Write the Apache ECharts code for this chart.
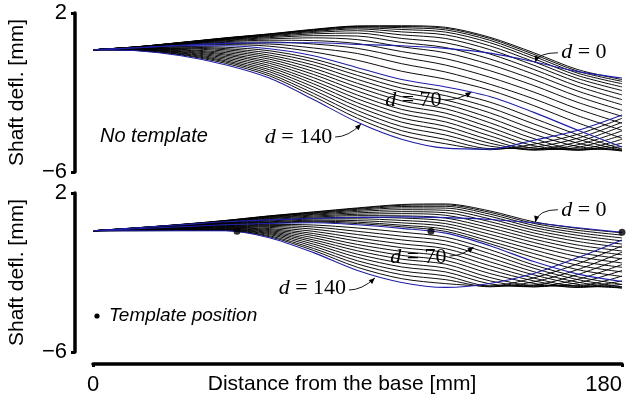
<!DOCTYPE html>
<html><head><meta charset="utf-8">
<script src="https://cdn.jsdelivr.net/npm/echarts@6/dist/echarts.min.js"></script>
<style>html,body{margin:0;padding:0;background:#fff}#c{width:641px;height:405px}</style>
</head><body><div id="c"></div><script>
// sample positions along the shaft [mm]
const xs = [0,15,30,45,60,75,90,105,120,135,150,165,180];
// template distance d of each curve
const dValues = [0,5,10,15,20,25,30,35,40,45,50,55,60,65,70,75,80,85,90,95,100,105,110,115,120,125,130,135,140];
const highlighted = [0,70,140];
const yTicks = [-6,2];
const xTicks = [0,180];

// Shaft deflection [mm], panel "No template" (one row per d)
const noTemplate = [
 [.15,.25,.38,.47,.5,.5,.42,.35,.22,-.02,-.45,-.95,-1.27],
 [.15,.3,.52,.75,.95,1.18,1.35,1.36,1.28,.78,.0,-.85,-1.35],
 [.15,.3,.52,.74,.94,1.16,1.33,1.32,1.23,.72,-.08,-.93,-1.44],
 [.15,.3,.51,.73,.93,1.14,1.3,1.26,1.15,.63,-.18,-1.03,-1.56],
 [.15,.3,.51,.72,.91,1.11,1.26,1.17,1.04,.51,-.3,-1.15,-1.72],
 [.15,.29,.5,.7,.88,1.07,1.2,1.05,.9,.35,-.45,-1.3,-1.9],
 [.15,.29,.49,.68,.85,1.02,1.11,.9,.72,.16,-.63,-1.48,-2.12],
 [.15,.29,.48,.66,.81,.95,.99,.72,.5,-.06,-.84,-1.69,-2.36],
 [.15,.28,.47,.63,.76,.86,.84,.52,.26,-.31,-1.08,-1.93,-2.62],
 [.15,.28,.45,.6,.7,.75,.66,.3,.0,-.59,-1.35,-2.2,-2.9],
 [.15,.27,.44,.56,.63,.61,.46,.06,-.3,-.9,-1.65,-2.5,-3.2],
 [.15,.27,.42,.52,.54,.44,.22,-.22,-.62,-1.23,-1.98,-2.83,-3.55],
 [.15,.26,.4,.46,.44,.24,-.04,-.55,-.97,-1.58,-2.32,-3.17,-3.9],
 [.15,.26,.38,.41,.33,.04,-.38,-.93,-1.33,-1.88,-2.66,-3.53,-4.3],
 [.15,.25,.35,.35,.2,-.15,-.75,-1.35,-1.72,-2.2,-3.0,-3.9,-4.74],
 [.15,.24,.31,.28,.1,-.31,-.95,-1.56,-1.94,-2.48,-3.3,-4.13,-4.85],
 [.15,.23,.28,.21,-.01,-.46,-1.14,-1.78,-2.16,-2.76,-3.58,-4.35,-4.92],
 [.15,.22,.24,.15,-.12,-.62,-1.34,-1.99,-2.38,-3.02,-3.85,-4.55,-4.95],
 [.15,.21,.21,.08,-.22,-.78,-1.54,-2.21,-2.6,-3.28,-4.1,-4.72,-4.92],
 [.15,.2,.17,.01,-.32,-.94,-1.73,-2.42,-2.82,-3.52,-4.32,-4.85,-4.85],
 [.15,.19,.14,-.06,-.43,-1.09,-1.93,-2.64,-3.04,-3.75,-4.52,-4.9,-4.72],
 [.15,.18,.1,-.12,-.53,-1.25,-2.13,-2.85,-3.26,-3.97,-4.68,-4.9,-4.55],
 [.15,.17,.06,-.19,-.64,-1.41,-2.32,-3.06,-3.48,-4.18,-4.8,-4.85,-4.35],
 [.15,.16,.03,-.26,-.74,-1.56,-2.52,-3.28,-3.7,-4.38,-4.88,-4.76,-4.15],
 [.15,.15,-.01,-.33,-.85,-1.72,-2.71,-3.49,-3.92,-4.55,-4.9,-4.63,-3.93],
 [.15,.14,-.04,-.4,-.95,-1.88,-2.91,-3.71,-4.14,-4.7,-4.85,-4.48,-3.7],
 [.15,.12,-.08,-.46,-1.06,-2.04,-3.11,-3.92,-4.36,-4.82,-4.75,-4.3,-3.5],
 [.15,.11,-.11,-.53,-1.16,-2.19,-3.3,-4.14,-4.58,-4.88,-4.6,-4.1,-3.3],
 [.15,.1,-.15,-.6,-1.27,-2.35,-3.5,-4.35,-4.8,-4.85,-4.4,-3.9,-3.13]
];

// Shaft deflection [mm], panel with template (one row per d)
const withTemplate = [
 [.1,.25,.4,.55,.65,.72,.77,.8,.76,.67,.5,.25,.02],
 [.1,.25,.42,.62,.85,1.05,1.25,1.42,1.45,1.1,.55,.22,.0],
 [.1,.25,.42,.61,.84,1.03,1.22,1.38,1.4,1.03,.47,.12,-.12],
 [.1,.25,.41,.6,.82,1.0,1.18,1.32,1.33,.94,.37,.0,-.26],
 [.1,.24,.41,.59,.8,.97,1.13,1.25,1.24,.83,.26,-.13,-.41],
 [.1,.24,.4,.58,.77,.93,1.07,1.16,1.13,.7,.13,-.28,-.57],
 [.1,.24,.39,.56,.74,.89,1.0,1.06,1.01,.56,-.01,-.44,-.74],
 [.1,.23,.38,.54,.71,.84,.93,.96,.88,.41,-.16,-.62,-.92],
 [.1,.23,.37,.52,.67,.79,.86,.85,.74,.25,-.32,-.8,-1.11],
 [.1,.22,.36,.5,.63,.74,.78,.74,.6,.09,-.49,-1.0,-1.31],
 [.1,.22,.35,.48,.59,.69,.7,.62,.46,-.08,-.67,-1.2,-1.52],
 [.1,.21,.34,.46,.55,.63,.61,.5,.32,-.25,-.86,-1.42,-1.74],
 [.1,.21,.32,.44,.52,.58,.53,.38,.18,-.42,-1.05,-1.64,-1.97],
 [.1,.2,.31,.42,.49,.54,.46,.3,.07,-.55,-1.25,-1.86,-2.2],
 [.1,.2,.3,.4,.47,.5,.4,.22,-.02,-.65,-1.45,-2.08,-2.45],
 [.1,.19,.29,.38,.42,.39,.24,.03,-.22,-.85,-1.62,-2.22,-2.6],
 [.1,.18,.27,.36,.37,.29,.07,-.17,-.41,-1.05,-1.79,-2.36,-2.72],
 [.1,.17,.26,.33,.32,.18,-.09,-.36,-.61,-1.26,-1.96,-2.49,-2.78],
 [.1,.17,.24,.31,.27,.07,-.26,-.56,-.8,-1.46,-2.12,-2.6,-2.78],
 [.1,.16,.23,.28,.21,-.04,-.42,-.75,-1.0,-1.66,-2.28,-2.7,-2.72],
 [.1,.15,.21,.26,.16,-.14,-.59,-.94,-1.19,-1.86,-2.42,-2.75,-2.6],
 [.1,.14,.2,.23,.11,-.25,-.75,-1.14,-1.39,-2.05,-2.55,-2.74,-2.42],
 [.1,.14,.18,.21,.06,-.36,-.91,-1.33,-1.58,-2.25,-2.65,-2.66,-2.18],
 [.1,.13,.16,.18,.01,-.46,-1.08,-1.53,-1.78,-2.42,-2.72,-2.52,-1.9],
 [.1,.12,.15,.16,-.04,-.57,-1.24,-1.72,-1.97,-2.57,-2.72,-2.34,-1.6],
 [.1,.12,.13,.14,-.09,-.68,-1.41,-1.92,-2.17,-2.68,-2.63,-2.1,-1.28],
 [.1,.11,.12,.12,-.15,-.79,-1.57,-2.11,-2.36,-2.72,-2.47,-1.85,-.98],
 [.1,.1,.11,.11,-.2,-.89,-1.74,-2.31,-2.56,-2.68,-2.27,-1.56,-.66],
 [.1,.1,.1,.1,-.25,-1.0,-1.9,-2.5,-2.75,-2.55,-2.05,-1.25,-.36]
];

// template positions (bottom panel)
const templateX = [49,115,180];
const templateY = [0.08,0.07,0.02];

// annotations: label, grid, text anchor, tail, tip (data coords)
const annLabels = ['0','70','140','0','70','140'];
const annGrid   = [0,0,0,1,1,1];
const annText   = [[159.3,0.04],[118.6,-2.38],[81.4,-4.24],[159.3,1.14],[120.3,-1.22],[86.1,-2.78]];
const annTail   = [[158.2,0.0],[119.7,-2.38],[82.4,-4.24],[158.2,1.16],[121.4,-1.17],[87.1,-2.88]];
const annTip    = [[150.5,-0.47],[128.8,-1.98],[91.2,-3.59],[150.5,0.54],[129.5,-0.72],[95.9,-2.28]];
const annAlign  = ['left','right','right','left','right','right'];

const BLUE = '#1e1eaa';
const SANS = '"Liberation Sans", Arial, Helvetica, sans-serif';
const SERIF = '"Liberation Serif","DejaVu Serif",serif';

function curveSeries(rows, gi){
  return rows.map((vals,i)=>{
    const hi = highlighted.includes(dValues[i]);
    return {
      type:'line', xAxisIndex:gi, yAxisIndex:gi, symbol:'none', showSymbol:false,
      smooth:0.3, silent:true, animation:false, z: hi?4:2,
      data: xs.map((x,j)=>[x, vals[j]]),
      lineStyle:{color: hi?BLUE:'#000', width: hi?1.1:0.95}
    };
  });
}

function yAxisDef(gi){
  return {
    gridIndex:gi, type:'value', min:-6, max:2, interval:8, position:'left', offset:18,
    axisLine:{show:true, onZero:false, lineStyle:{color:'#000', width:3.5}},
    axisTick:{show:true, length:4, customValues:yTicks, lineStyle:{color:'#000', width:3}},
    axisLabel:{customValues:yTicks, fontSize:22, color:'#000', fontFamily:SANS, margin:8,
      formatter:v=> v<0 ? '\u2212'+(-v) : String(v)},
    splitLine:{show:false},
    name:'Shaft defl. [mm]', nameLocation:'middle', nameGap:47, nameMoveOverlap:false,
    nameTextStyle:{fontSize:21, color:'#000', fontFamily:SANS}
  };
}

const chart = echarts.init(document.getElementById('c'), null, {renderer:'canvas'});
const option = {
  animation:false,
  backgroundColor:'#fff',
  grid:[
    {left:93, width:529, top:13, height:159, outerBoundsMode:'none', containLabel:false},
    {left:93, width:529, top:193, height:159, outerBoundsMode:'none', containLabel:false}
  ],
  xAxis:[
    {gridIndex:0, type:'value', min:0, max:180, show:false},
    {gridIndex:1, type:'value', min:0, max:180, interval:180, offset:12, position:'bottom',
     axisLine:{show:true, onZero:false, lineStyle:{color:'#000', width:3.5}},
     axisTick:{show:true, length:3, customValues:xTicks, lineStyle:{color:'#000', width:3}},
     axisLabel:{customValues:xTicks, fontSize:22, color:'#000', fontFamily:SANS, margin:10, alignMaxLabel:'right'},
     splitLine:{show:false},
     name:'Distance from the base [mm]', nameLocation:'middle', nameGap:10, nameMoveOverlap:false,
     nameTextStyle:{fontSize:21, color:'#000', fontFamily:SANS, padding:[0,31,0,0], verticalAlign:'top'}
    }
  ],
  yAxis:[yAxisDef(0), yAxisDef(1)],
  series:[].concat(curveSeries(noTemplate,0), curveSeries(withTemplate,1), [{
    type:'scatter', xAxisIndex:1, yAxisIndex:1, symbolSize:7, silent:true, z:6,
    itemStyle:{color:'#000'},
    data: templateX.map((x,i)=>[x, templateY[i]])
  }])
};
chart.setOption(option);

// annotations
const g = [];
g.push({type:'text', x:100, y:136, silent:true, style:{text:'No template', fill:'#000',
  fontSize:20, fontStyle:'italic', fontFamily:SANS, verticalAlign:'middle', align:'left'}});
g.push({type:'circle', shape:{cx:97, cy:316, r:2.6}, silent:true, style:{fill:'#000'}});
g.push({type:'text', x:109, y:316, silent:true, style:{text:'Template position', fill:'#000',
  fontSize:19, fontStyle:'italic', fontFamily:SANS, verticalAlign:'middle', align:'left'}});

for (let i=0;i<annLabels.length;i++){
  const gi = annGrid[i];
  const P = p => chart.convertToPixel({gridIndex:gi}, p);
  const t = P(annText[i]), a = P(annTail[i]), b = P(annTip[i]);
  g.push({type:'text', x:t[0], y:t[1], silent:true, style:{
    text:'{i|d} = '+annLabels[i], fill:'#000', fontSize:22, fontFamily:SERIF,
    align:annAlign[i], verticalAlign:'middle',
    rich:{i:{fontStyle:'italic', fontSize:22, fontFamily:SERIF, fill:'#000'}}}});
  let cp;
  if (annAlign[i]==='left') cp = [b[0]+3, a[1]];
  else cp = [(a[0]+b[0])/2, a[1]];
  g.push({type:'bezierCurve', silent:true, shape:{x1:a[0], y1:a[1], x2:b[0], y2:b[1], cpx1:cp[0], cpy1:cp[1]},
    style:{stroke:'#000', lineWidth:0.9, fill:null}});
  const dx=b[0]-cp[0], dy=b[1]-cp[1], L=Math.hypot(dx,dy)||1;
  const ux=dx/L, uy=dy/L, len=6, w=2.6;
  const bx=b[0]-ux*len, by=b[1]-uy*len;
  g.push({type:'polygon', silent:true, shape:{points:[[b[0],b[1]],[bx-uy*w,by+ux*w],[bx+uy*w,by-ux*w]]},
    style:{fill:'#000'}});
}
chart.setOption({graphic:g});
</script></body></html>
